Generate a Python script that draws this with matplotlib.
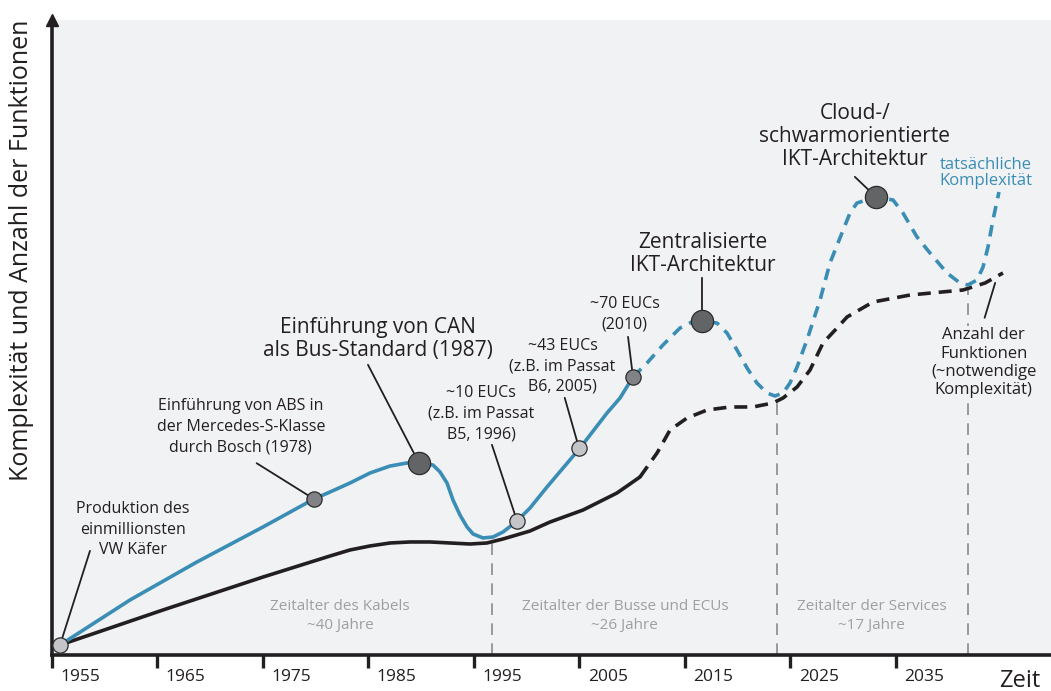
import matplotlib
matplotlib.use("Agg")
from matplotlib import pyplot as plt

plt.rcParams['font.family'] = ['Open Sans', 'DejaVu Sans']

# tatsächliche Komplexität (blau), durchgezogen bis heute, danach gestrichelt
blue_solid_x = [1950.76, 1957.39, 1963.74, 1970.0, 1974.83, 1976.35, 1978.25, 1980.14,
                1982.04, 1983.65, 1984.79, 1986.11, 1986.78, 1987.44, 1988.01, 1988.67,
                1989.34, 1989.91, 1990.85, 1991.80, 1992.75, 1994.08, 1995.31, 1996.92,
                2000.05, 2002.61, 2003.84, 2005.07]
blue_solid_y = [1.57, 8.66, 14.65, 20.16, 24.57, 25.67, 27.09, 28.66,
                29.76, 30.24, 30.24, 29.92, 28.82, 27.09, 24.41, 22.05,
                20.16, 19.06, 18.43, 18.58, 19.37, 21.10, 23.15, 26.46,
                32.60, 38.11, 40.47, 43.78]
blue_dash_x = [2005.07, 2006.40, 2007.91, 2009.53, 2010.66, 2011.61, 2013.03, 2013.98,
               2014.93, 2015.88, 2016.82, 2017.77, 2018.53, 2019.29, 2019.95, 2020.62,
               2021.56, 2022.80, 2023.74, 2024.88, 2025.64, 2026.30, 2028.10, 2029.72,
               2030.66, 2031.99, 2033.22, 2034.83, 2036.07, 2036.82, 2037.68, 2038.25,
               2038.72, 2039.19, 2039.76]
blue_dash_y = [43.78, 45.98, 48.82, 51.50, 52.44, 52.60, 52.28, 50.71,
               48.03, 45.20, 42.83, 41.26, 40.79, 41.26, 42.83, 45.35,
               49.61, 55.91, 61.73, 66.46, 69.61, 71.18, 72.13, 71.65,
               69.61, 65.83, 63.31, 60.16, 58.58, 58.27, 59.06, 61.10,
               64.25, 68.50, 72.91]

# Anzahl der Funktionen (schwarz)
black_solid_x = [1950.76, 1960.52, 1970.0, 1976.35, 1978.25, 1980.14, 1982.04, 1983.93,
                 1985.83, 1987.73, 1989.62, 1991.23, 1992.75, 1994.36, 1995.31, 1997.20,
                 2000.33, 2003.55, 2005.73]
black_solid_y = [1.57, 7.09, 12.28, 15.59, 16.54, 17.17, 17.64, 17.80,
                 17.80, 17.64, 17.48, 17.64, 18.27, 19.06, 19.53, 20.94,
                 22.83, 25.51, 28.03]
black_dash_x = [2005.73, 2007.35, 2008.58, 2010.19, 2012.09, 2014.27, 2016.45, 2018.34,
                2019.29, 2020.62, 2021.85, 2023.08, 2024.41, 2025.36, 2027.82, 2031.33,
                2036.35, 2038.44, 2040.14]
black_dash_y = [28.03, 31.81, 35.43, 37.32, 38.58, 39.06, 39.06, 39.69,
                40.47, 42.20, 44.88, 49.13, 51.50, 53.23, 55.59, 56.69,
                57.48, 58.58, 60.16]

# Ereignisse auf der Kurve
event_x = [1950.76, 1974.83, 1984.79, 1994.08, 1999.95, 2005.07, 2011.61, 2028.1]
event_y = [1.57, 24.57, 30.24, 21.10, 32.6, 43.78, 52.6, 72.13]
event_kind = ['light', 'mid', 'big', 'light', 'light', 'mid', 'big', 'big']
event_text = ['Produktion des\neinmillionsten\nVW Käfer',
              'Einführung von ABS in\nder Mercedes-S-Klasse\ndurch Bosch (1978)',
              'Einführung von CAN\nals Bus-Standard (1987)',
              '~10 EUCs\n(z.B. im Passat\nB5, 1996)',
              '~43 EUCs\n(z.B. im Passat\nB6, 2005)',
              '~70 EUCs\n(2010)',
              'Zentralisierte\nIKT-Architektur',
              'Cloud-/\nschwarmorientierte\nIKT-Architektur']
text_x = [1957.7, 1967.9, 1980.9, 1990.7, 1998.4, 2004.3, 2011.7, 2026.1]
text_y = [19.7, 35.9, 49.8, 38.0, 45.5, 53.7, 63.2, 81.7]
line_end_x = [1953.6, 1969.4, 1979.95, 1991.7, 1998.6, 2004.6, 2011.61, 2026.1]
line_end_y = [16.4, 30.2, 45.7, 33.1, 40.5, 50.1, 59.4, 75.3]

# Zeitalter
era_bounds = [1991.7, 2018.7, 2036.8]
era_bound_top = [17.8, 40.2, 57.6]
era_labels = ['Zeitalter des Kabels\n~40 Jahre',
              'Zeitalter der Busse und ECUs\n~26 Jahre',
              'Zeitalter der Services\n~17 Jahre']
era_x = [1977.3, 2004.3, 2027.7]

ticks = [1950, 1960, 1970, 1980, 1990, 2000, 2010, 2020, 2030]
tick_labels = ['1955', '1965', '1975', '1985', '1995', '2005', '2015', '2025', '2035']

BLUE = '#3a8db5'
INK = '#231f20'
GREY_TXT = '#9d9fa2'
BG = '#f1f2f4'

fig = plt.figure(figsize=(10.51, 6.91), dpi=100)
ax = fig.add_axes([52/1051, 36/691, 999/1051, 635/691])
ax.set_facecolor(BG)
ax.set_xlim(1950, 1950 + 999/10.55)
ax.set_ylim(0, 100)

for s in ['top', 'right']:
    ax.spines[s].set_visible(False)
for s in ['left', 'bottom']:
    ax.spines[s].set_linewidth(2.6)
    ax.spines[s].set_color(INK)
ax.set_yticks([])
ax.set_xticks(ticks)
ax.set_xticklabels([])
ax.tick_params(axis='x', direction='out', length=9, width=2.4, color=INK)
# Pfeilspitze der y-Achse
ax.plot([0], [1], marker='^', ms=9, color=INK, transform=ax.transAxes, clip_on=False,
        zorder=6)

for t, lab in zip(ticks, tick_labels):
    ax.annotate(lab, xy=(t, 0), xycoords=('data', 'axes fraction'),
                xytext=(6, -16), textcoords='offset points',
                ha='left', va='center', fontsize=12.5, color=INK)

# Zeitalter-Grenzen
for xb, yt in zip(era_bounds, era_bound_top):
    ax.plot([xb, xb], [0, yt], color='#8a8a8a', lw=1.2, dashes=(7, 5), zorder=1)
for xe, lab in zip(era_x, era_labels):
    ax.text(xe, 6.1, lab, ha='center', va='center', fontsize=11, color=GREY_TXT,
            linespacing=1.35)

# Kurven
ax.plot(black_solid_x, black_solid_y, color=INK, lw=2.6, solid_capstyle='round',
        solid_joinstyle='round', zorder=3)
ax.plot(black_dash_x, black_dash_y, color=INK, lw=2.6, dashes=(3.6, 2.2), zorder=3)
ax.plot(blue_solid_x, blue_solid_y, color=BLUE, lw=2.6, solid_capstyle='round',
        solid_joinstyle='round', zorder=4)
ax.plot(blue_dash_x, blue_dash_y, color=BLUE, lw=2.6, dashes=(3.2, 2.2), zorder=4)

# Ereignisse
styles = {'light': ('#c3c5c8', 11), 'mid': ('#808285', 11), 'big': ('#636466', 16)}
for i in range(len(event_x)):
    fc, ms = styles[event_kind[i]]
    ax.annotate('', xy=(event_x[i], event_y[i]), xytext=(line_end_x[i], line_end_y[i]),
                arrowprops=dict(arrowstyle='-', color=INK, lw=1.3, shrinkA=0, shrinkB=0),
                zorder=5)
    ax.plot(event_x[i], event_y[i], 'o', ms=ms, mfc=fc, mec='#2b2b2b', mew=0.9,
            zorder=7, clip_on=False)
    big = event_kind[i] == 'big'
    ax.text(text_x[i], text_y[i], event_text[i], ha='center', va='center',
            fontsize=15 if big else 11.5, color=INK, linespacing=1.12 if big else 1.38)

# Beschriftung der Kurven
ax.text(2038.5, 75.9, 'tatsächliche\nKomplexität', ha='center', va='center',
        fontsize=12, color=BLUE, linespacing=1.0)
ax.text(2038.3, 46.0, 'Anzahl der\nFunktionen\n(~notwendige\nKomplexität)',
        ha='center', va='center', fontsize=12, color=INK, linespacing=1.2, zorder=2,
        bbox=dict(facecolor=BG, edgecolor='none', pad=1))
ax.annotate('', xy=(2039.4, 58.6), xytext=(2038.4, 53.1),
            arrowprops=dict(arrowstyle='-', color=INK, lw=1.3, shrinkA=0, shrinkB=0))

fig.text(22/1051, 1 - 250/691, 'Komplexität und Anzahl der Funktionen', rotation=90,
         ha='center', va='center', fontsize=18, color=INK)
fig.text(1020/1051, 1 - 681/691, 'Zeit', ha='center', va='center', fontsize=17, color=INK)

fig.savefig('out.png', dpi=100, facecolor='white')
